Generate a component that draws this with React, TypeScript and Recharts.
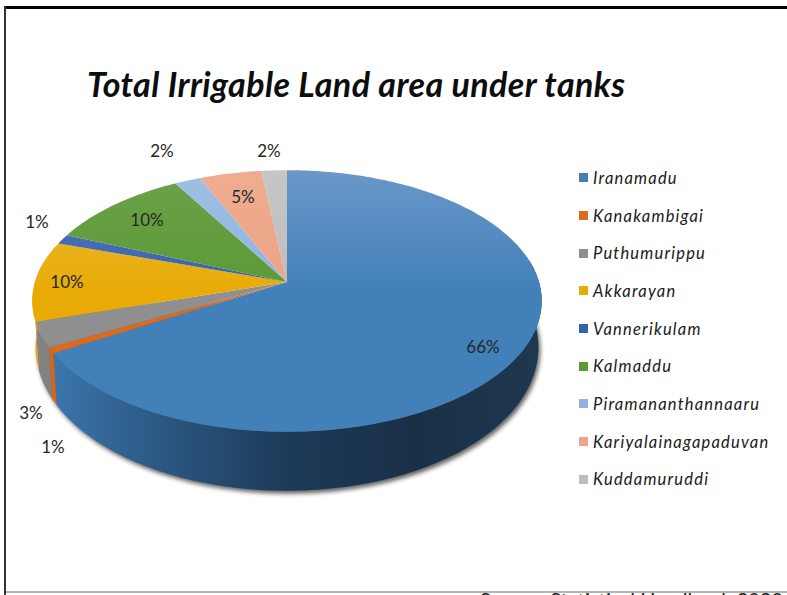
import { PieChart, Pie, Legend } from "recharts";

const names = [
  "Iranamadu",
  "Kanakambigai",
  "Puthumurippu",
  "Akkarayan",
  "Vannerikulam",
  "Kalmaddu",
  "Piramananthannaaru",
  "Kariyalainagapaduvan",
  "Kuddamuruddi",
];
const shares = [66.4, 0.7, 3.1, 9.9, 1.2, 10.4, 1.9, 4.55, 1.85];

const sliceColors = ["#4280ba", "#dc6a1e", "#8f8f8f", "#e8ab06", "#3560ac", "#5c9a34", "#8fb4e0", "#eda488", "#bdbdbd"];
const topColors = ["#6a98c8", "#e58a50", "#a0a0a0", "#eeba42", "#5a80c0", "#6ca14c", "#a0bfe4", "#efac90", "#c6c6c6"];
const wallStops = [
  ["#3f7cb6", "#2f5f8c", "#1c3a58", "#1a3047", "#1e3850"],
  ["#d86a1c", "#c05a18", "#8a4210", "#6a3208", "#6a3208"],
  ["#858585", "#6a6a6a", "#4a4a4a", "#3a3a3a", "#3a3a3a"],
  ["#e5a800", "#c09000", "#806000", "#604800", "#604800"],
];

// where each percent label sits on the page
const labelSpots = [
  [483, 346],
  [53, 446],
  [31, 412],
  [67, 281],
  [37, 221],
  [147, 219],
  [162, 150],
  [243, 196],
  [269, 150],
];

const data = names.map((name, i) => ({ name, value: shares[i], fill: sliceColors[i] }));

const CX = 287;
const CY = 282;
const RX = 252;
const SQUASH = 0.508;
const TILT = 0.145;

const project = (deg: number) => {
  const phi = ((90 - deg) * Math.PI) / 180;
  const u = Math.sin(phi);
  const v = -Math.cos(phi);
  const w = 1 - TILT * v;
  return { x: CX + (RX * u) / w, y: CY + (RX * SQUASH * v) / w, v };
};

const lowered = (deg: number) => {
  const p = project(deg);
  return { x: CX + (p.x - CX) * 0.987, y: p.y + 44 + 15 * p.v };
};

const arc = (from: number, to: number, fn: (d: number) => { x: number; y: number }) => {
  const steps = Math.max(2, Math.ceil(Math.abs(to - from)));
  const pts = [];
  for (let i = 0; i <= steps; i++) {
    const p = fn(from + ((to - from) * i) / steps);
    pts.push(`${p.x.toFixed(1)} ${p.y.toFixed(1)}`);
  }
  return pts;
};

const TopSlice = (props: any) => {
  const { startAngle, endAngle, index } = props;
  const pts = arc(startAngle, endAngle, project);
  return <path d={`M${CX} ${CY}L${pts.join("L")}Z`} fill={`url(#top-${index})`} stroke="none" />;
};

const WallSlice = (props: any) => {
  const { startAngle, endAngle, index } = props;
  // only the front of the rim shows, angles here run clockwise and go negative
  const from = Math.min(startAngle, 10);
  const to = Math.max(endAngle, -190);
  const shadow = `M${arc(10, -190, lowered).join("L")}Z`;
  return (
    <g>
      {index === 0 && (
        <path d={shadow} fill="#333" opacity={0.75} transform="translate(2 3)" filter="url(#rim-shadow)" />
      )}
      {from > to && (
        <path
          d={`M${arc(from, to, project).join("L")}L${arc(to, from, lowered).join("L")}Z`}
          fill={`url(#wall-${Math.min(index, 3)})`}
          stroke="none"
        />
      )}
    </g>
  );
};

const PercentLabel = ({ index, percent }: any) => (
  <text
    x={labelSpots[index][0]}
    y={labelSpots[index][1]}
    textAnchor="middle"
    dominantBaseline="central"
    fontFamily="Lato"
    fontSize={17}
    fill="#262626"
  >
    {Math.round(percent * 100)}%
  </text>
);

const SideLegend = ({ payload }: any) => {
  // both pies report here, keep one entry per name in the data order
  const items = names.map((n) => (payload || []).find((p: any) => p.value === n)).filter(Boolean);
  return (
    <div>
      {items.map((item: any) => (
        <div key={item.value} style={{ display: "flex", alignItems: "center", height: 37.7 }}>
          <span style={{ width: 9, height: 9, marginRight: 5, background: item.color, flex: "none" }} />
          <span
            style={{
              fontFamily: "Lato",
              fontStyle: "italic",
              fontSize: 16.5,
              letterSpacing: 1.2,
              color: "#1a1a1a",
              whiteSpace: "nowrap",
            }}
          >
            {item.value}
          </span>
        </div>
      ))}
    </div>
  );
};

export default function App() {
  return (
    <div style={{ position: "fixed", left: 0, top: 0, width: 787, height: 595, overflow: "hidden", background: "#fff" }}>
      <div style={{ position: "absolute", left: 4, top: 6, right: 0, height: 2.5, background: "#000" }} />
      <div style={{ position: "absolute", left: 4, top: 6, bottom: 0, width: 2, background: "#333" }} />
      <div style={{ position: "absolute", left: 6, right: 0, top: 591, height: 2, background: "#b4b4b4" }} />
      <div
        style={{
          position: "absolute",
          left: 87,
          top: 63,
          fontFamily: "Lato",
          fontStyle: "italic",
          fontWeight: 700,
          fontSize: 34,
          letterSpacing: 0.42,
          color: "#0d0d0d",
          whiteSpace: "nowrap",
        }}
      >
        Total Irrigable Land area under tanks
      </div>
      <div
        style={{
          position: "absolute",
          left: 480,
          top: 587,
          fontFamily: "Lato",
          fontSize: 20,
          color: "#222",
          whiteSpace: "nowrap",
        }}
      >
        Source: Statistical Handbook 2020
      </div>
      <div style={{ position: "absolute", left: 0, top: 0 }}>
        <PieChart width={787} height={595} margin={{ top: 0, right: 0, bottom: 0, left: 0 }}>
          <defs>
            <filter id="rim-shadow" x="-5%" y="-5%" width="110%" height="110%">
              <feGaussianBlur stdDeviation="2.2" />
            </filter>
            {wallStops.map((stops, i) => (
              <linearGradient key={i} id={`wall-${i}`} gradientUnits="userSpaceOnUse" x1={32} y1={0} x2={542} y2={0}>
                {stops.map((c, j) => (
                  <stop key={j} offset={[0, 0.2, 0.5, 0.75, 1][j]} stopColor={c} />
                ))}
              </linearGradient>
            ))}
            {sliceColors.map((c, i) => (
              <linearGradient key={i} id={`top-${i}`} gradientUnits="userSpaceOnUse" x1={0} y1={170} x2={0} y2={290}>
                <stop offset={0} stopColor={topColors[i]} />
                <stop offset={1} stopColor={c} />
              </linearGradient>
            ))}
          </defs>
          <Pie
            data={data}
            dataKey="value"
            nameKey="name"
            cx={CX}
            cy={CY}
            outerRadius={RX}
            startAngle={90}
            endAngle={-270}
            legendType="none"
            stroke="none"
            shape={WallSlice}
            isAnimationActive={false}
          />
          <Pie
            data={data}
            dataKey="value"
            nameKey="name"
            cx={CX}
            cy={CY}
            outerRadius={RX}
            startAngle={90}
            endAngle={-270}
            legendType="square"
            stroke="none"
            shape={TopSlice}
            label={PercentLabel}
            labelLine={false}
            isAnimationActive={false}
          />
          <Legend
            content={SideLegend}
            wrapperStyle={{ position: "absolute", left: 579, top: 159, width: 208, margin: 0 }}
          />
        </PieChart>
      </div>
    </div>
  );
}
